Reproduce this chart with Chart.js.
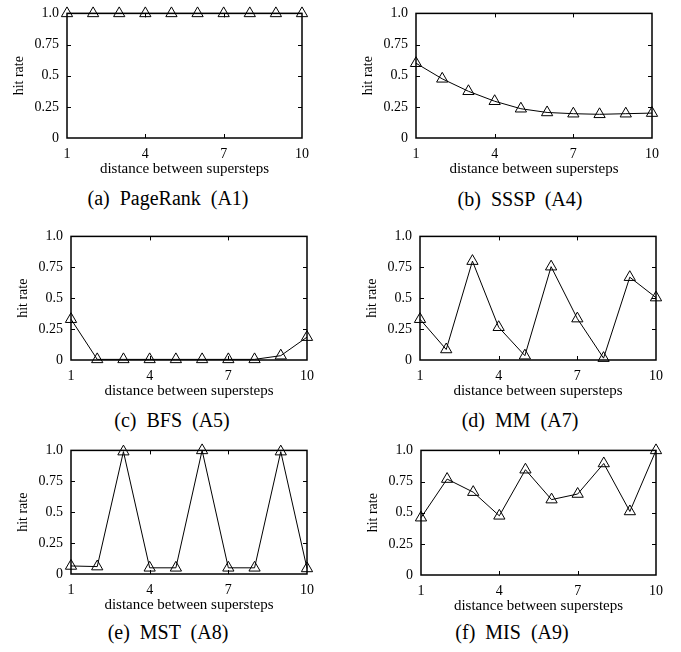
<!DOCTYPE html>
<html>
<head>
<meta charset="utf-8">
<script src="https://cdn.jsdelivr.net/npm/chart.js@4.4.0/dist/chart.umd.min.js"></script>
<style>
  body { margin: 0; background: #fff; width: 681px; height: 652px; position: relative; overflow: hidden;
         font-family: "Liberation Serif", "Times New Roman", serif; }
  canvas { position: absolute; }
  .caption { position: absolute; font-size: 20px; line-height: 1; white-space: pre; color: #000;
             transform: translate(-50%, -50%); }
</style>
</head>
<body>
<script>
const FONT = '"Liberation Serif", "Times New Roman", serif';

// data
const distances = [1, 2, 3, 4, 5, 6, 7, 8, 9, 10];
const xTicks = [1, 4, 7, 10];
const yTicks = [0, 0.25, 0.5, 0.75, 1];
const yTickLabels = ['0', '0.25', '0.5', '0.75', '1.0'];

const pageRankHits = [1, 1, 1, 1, 1, 1, 1, 1, 1, 1];
const ssspHits = [0.60, 0.475, 0.375, 0.295, 0.235, 0.205, 0.195, 0.19, 0.195, 0.20];
const bfsHits = [0.33, 0.005, 0.005, 0.005, 0.005, 0.005, 0.005, 0.005, 0.035, 0.185];
const mmHits = [0.33, 0.085, 0.80, 0.265, 0.035, 0.755, 0.335, 0.015, 0.67, 0.505];
const mstHits = [0.065, 0.06, 0.99, 0.05, 0.05, 1.0, 0.05, 0.05, 0.99, 0.045];
const misHits = [0.46, 0.77, 0.665, 0.475, 0.845, 0.605, 0.65, 0.895, 0.51, 1.0];

const captions = ['(a)  PageRank  (A1)', '(b)  SSSP  (A4)', '(c)  BFS  (A5)',
                  '(d)  MM  (A7)', '(e)  MST  (A8)', '(f)  MIS  (A9)'];

// layout of each panel (plot box edges and caption centre)
const panels = [
  { values: pageRankHits, colX: 0,   L: 67,  R: 302, T: 9,   B: 138, capX: 168, capY: 198 },
  { values: ssspHits,     colX: 340, L: 416, R: 652, T: 9,   B: 138, capX: 520, capY: 199 },
  { values: bfsHits,      colX: 0,   L: 71,  R: 307, T: 232, B: 360, capX: 172, capY: 420 },
  { values: mmHits,       colX: 340, L: 420, R: 656, T: 232, B: 360, capX: 520, capY: 420 },
  { values: mstHits,      colX: 0,   L: 71,  R: 307, T: 446, B: 574, capX: 168, capY: 632 },
  { values: misHits,      colX: 340, L: 421, R: 656, T: 446, B: 575, capX: 512, capY: 632 }
];

// gnuplot style box with inward ticks on all four sides
const framePlugin = {
  id: 'frame',
  beforeDatasetsDraw(chart) {
    const { ctx, chartArea: a, scales: { x, y } } = chart;
    ctx.save();
    ctx.strokeStyle = '#000';
    ctx.lineWidth = 1.5;
    ctx.strokeRect(a.left, a.top, a.right - a.left, a.bottom - a.top);
    ctx.lineWidth = 1;
    ctx.beginPath();
    xTicks.slice(1, -1).forEach(v => {
      const px = Math.round(x.getPixelForValue(v)) + 0.5;
      ctx.moveTo(px, a.bottom); ctx.lineTo(px, a.bottom - 4);
      ctx.moveTo(px, a.top); ctx.lineTo(px, a.top + 4);
    });
    yTicks.slice(1, -1).forEach(v => {
      const py = Math.round(y.getPixelForValue(v)) + 0.5;
      ctx.moveTo(a.left, py); ctx.lineTo(a.left + 4, py);
      ctx.moveTo(a.right, py); ctx.lineTo(a.right - 4, py);
    });
    ctx.stroke();
    ctx.restore();
  }
};

const padTop = 12;
const axisH = 40;
const yAxisW = 56;

panels.forEach((p, i) => {
  const canvas = document.createElement('canvas');
  const h = padTop + (p.B - p.T) + axisH;
  canvas.width = 340;
  canvas.height = h;
  canvas.style.left = p.colX + 'px';
  canvas.style.top = (p.T - padTop) + 'px';
  document.body.appendChild(canvas);

  new Chart(canvas, {
    type: 'line',
    data: {
      datasets: [{
        data: distances.map((d, k) => ({ x: d, y: p.values[k] })),
        borderColor: '#000',
        borderWidth: 1,
        pointStyle: 'triangle',
        pointRadius: 6.5,
        pointBorderWidth: 1,
        pointBorderColor: '#000',
        pointBackgroundColor: 'rgba(0,0,0,0)',
        tension: 0,
        fill: false,
        clip: false
      }]
    },
    options: {
      responsive: false,
      animation: false,
      events: [],
      layout: { padding: { top: padTop, right: p.colX + 340 - p.R, left: p.L - p.colX - yAxisW, bottom: 0 } },
      plugins: { legend: { display: false }, tooltip: { enabled: false } },
      scales: {
        x: {
          type: 'linear', min: 1, max: 10,
          grid: { display: false, drawTicks: false },
          border: { display: false },
          afterBuildTicks: s => { s.ticks = xTicks.map(v => ({ value: v })); },
          afterFit: s => { s.height = axisH; },
          ticks: { color: '#000', font: { family: FONT, size: 14 }, padding: 8, maxRotation: 0, autoSkip: false },
          title: { display: true, text: 'distance between supersteps', color: '#000',
                   font: { family: FONT, size: 15 }, padding: 0 }
        },
        y: {
          type: 'linear', min: 0, max: 1,
          grid: { display: false, drawTicks: false },
          border: { display: false },
          afterBuildTicks: s => { s.ticks = yTicks.map(v => ({ value: v })); },
          afterFit: s => { s.width = yAxisW; },
          ticks: { color: '#000', font: { family: FONT, size: 14 }, padding: 8,
                   callback: (v, idx) => yTickLabels[idx] },
          title: { display: true, text: 'hit rate', color: '#000',
                   font: { family: FONT, size: 14 }, padding: 0 }
        }
      }
    },
    plugins: [framePlugin]
  });

  const cap = document.createElement('div');
  cap.className = 'caption';
  cap.textContent = captions[i];
  cap.style.left = p.capX + 'px';
  cap.style.top = p.capY + 'px';
  document.body.appendChild(cap);
});
</script>
</body>
</html>
